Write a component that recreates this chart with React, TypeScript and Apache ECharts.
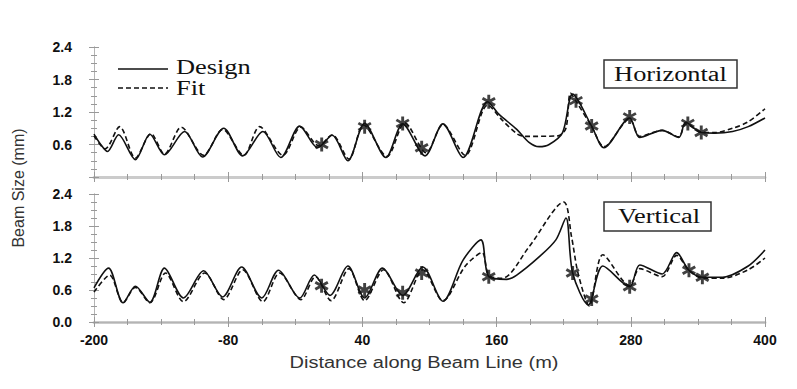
import React, { useEffect, useRef } from "react";
import * as echarts from "echarts";

// Distance along beam line (m) and beam size (mm)
const xTickLabels = [-200, -80, 40, 160, 280, 400];
const X_OFFSET = 200; // axis runs 0..600 internally, labelled -200..400

// Horizontal panel
const hDesignPos = [-200, -194, -188, -178, -163, -150, -137, -119, -103, -84, -67, -49, -33, -16, 0, 13, 27, 42, 61, 76, 96, 112, 130, 152, 162, 178, 189, 198, 207, 219, 228, 245, 256, 279, 288, 308, 323, 329, 343, 355, 371, 385, 400];
const hDesignVal = [0.79, 0.6, 0.47, 0.78, 0.32, 0.79, 0.41, 0.84, 0.37, 0.9, 0.39, 0.84, 0.36, 0.94, 0.54, 0.77, 0.3, 0.99, 0.36, 0.98, 0.39, 0.98, 0.36, 1.39, 1.16, 0.88, 0.64, 0.56, 0.6, 0.82, 1.53, 0.94, 0.54, 1.09, 0.73, 0.86, 0.73, 1.01, 0.82, 0.81, 0.84, 0.93, 1.09];

const hFitPos = [-200, -190, -177, -163, -149, -137, -122, -102, -85, -66, -52, -31, -15, 1, 13, 28, 41, 62, 78, 97, 112, 132, 152, 165, 178, 185, 215, 222, 226, 231, 245, 256, 279, 288, 308, 323, 329, 343, 355, 371, 385, 400];
const hFitVal = [0.76, 0.52, 0.93, 0.35, 0.8, 0.42, 0.92, 0.4, 0.88, 0.4, 0.93, 0.4, 0.92, 0.58, 0.78, 0.33, 0.96, 0.38, 1.0, 0.45, 0.97, 0.4, 1.33, 1.05, 0.8, 0.75, 0.76, 0.9, 1.55, 1.4, 0.93, 0.56, 1.07, 0.75, 0.86, 0.74, 0.98, 0.83, 0.82, 0.9, 1.02, 1.26];

const hStarPos = [3.6, 42, 76, 93, 153, 231, 245, 279, 331, 343];
const hStarVal = [0.6, 0.93, 0.99, 0.54, 1.39, 1.41, 0.94, 1.11, 0.99, 0.82];

// Vertical panel
const vDesignPos = [-200, -187, -174, -163, -150, -137, -120, -102, -85, -68, -50, -35, -16, -3, 11, 27, 42, 58, 76, 94, 112, 130, 146, 153, 169, 178, 198, 213, 222, 228, 242, 255, 279, 288, 308, 321, 332, 344, 362, 385, 400];
const vDesignVal = [0.64, 1.01, 0.36, 0.67, 0.37, 1.01, 0.45, 0.96, 0.47, 1.03, 0.45, 0.97, 0.45, 0.88, 0.5, 1.05, 0.45, 1.01, 0.5, 1.03, 0.39, 1.16, 1.54, 0.85, 0.8, 0.88, 1.22, 1.54, 1.95, 0.92, 0.32, 1.05, 0.66, 1.07, 0.9, 1.3, 0.97, 0.84, 0.84, 1.05, 1.35];

const vFitPos = [-200, -186, -174, -163, -150, -136, -120, -101, -84, -67, -49, -34, -15, -2, 12, 28, 42, 59, 77, 94, 112, 132, 147, 153, 165, 189, 220, 227, 233, 243, 255, 279, 288, 308, 321, 332, 344, 362, 385, 400];
const vFitVal = [0.56, 0.88, 0.36, 0.65, 0.36, 0.92, 0.38, 0.92, 0.42, 0.98, 0.38, 0.92, 0.42, 0.85, 0.4, 1.0, 0.4, 0.98, 0.36, 0.98, 0.4, 1.05, 1.3, 0.88, 0.82, 1.41, 2.25, 1.6, 0.9, 0.3, 1.26, 0.68, 1.0, 0.85, 1.25, 0.97, 0.82, 0.82, 0.98, 1.2];

const vStarPos = [3.5, 42, 76, 93, 153, 228, 245, 279, 332, 344];
const vStarVal = [0.68, 0.6, 0.55, 0.92, 0.85, 0.92, 0.43, 0.66, 0.97, 0.84];

const pair = (pos: number[], val: number[]) => pos.map((p, i) => [p + X_OFFSET, val[i]]);

function asteriskPath(): string {
  const L = 6, w = 1.2;
  const parts: string[] = [];
  [90, 30, 150].forEach((deg) => {
    const t = (deg * Math.PI) / 180;
    const dx = Math.cos(t), dy = Math.sin(t);
    const px = -dy, py = dx;
    const pts = [
      [L * dx + w * px, L * dy + w * py],
      [L * dx - w * px, L * dy - w * py],
      [-L * dx - w * px, -L * dy - w * py],
      [-L * dx + w * px, -L * dy + w * py],
    ];
    parts.push("M" + pts.map((p) => p[0].toFixed(3) + "," + p[1].toFixed(3)).join("L") + "Z");
  });
  return "path://" + parts.join("");
}

export default function App() {
  const ref = useRef<HTMLDivElement>(null);
  useEffect(() => {
    if (!ref.current) return;
    const chart = echarts.init(ref.current, null, { renderer: "svg" });
    const star = asteriskPath();
    const thinLine = { show: true, lineStyle: { color: "#b4b4b4", width: 1 } };
    const thickLine = { show: true, lineStyle: { color: "#cbcbcb", width: 3 } };
    const tick = { show: true, inside: true, length: 5, lineStyle: { color: "#999" } };
    const minor = { show: true, splitNumber: 4, length: 3, lineStyle: { color: "#999" } };
    const labelFont = { fontFamily: "Arial, 'Liberation Sans'", fontWeight: "bold" as const, fontSize: 14, color: "#111" };
    const serif = "20px 'Liberation Serif', 'Times New Roman', serif";
    const SX = 1.32;

    const xBase = { type: "value" as const, min: 0, max: 600, interval: 120, splitLine: { show: false } };
    const yBase = { type: "value" as const, min: 0, max: 2.4, interval: 0.6, splitLine: { show: false } };

    const lineSeries = (data: number[][], axis: number, dashed: boolean) => ({
      type: "line" as const,
      data,
      xAxisIndex: axis,
      yAxisIndex: axis,
      symbol: "none",
      smooth: 0.3,
      lineStyle: { color: "#111", width: 1.6, type: dashed ? [5, 3] : "solid" },
      z: dashed ? 3 : 4,
    });
    const starSeries = (data: number[][], axis: number) => ({
      type: "scatter" as const,
      data,
      xAxisIndex: axis,
      yAxisIndex: axis,
      symbol: star,
      symbolSize: 14,
      itemStyle: { color: "#111" },
      z: 5,
    });

    chart.setOption({
      animation: false,
      backgroundColor: "#fff",
      grid: [
        { left: 94, top: 47, width: 671, height: 130 },
        { left: 94, top: 194, width: 671, height: 128 },
      ],
      xAxis: [
        { ...xBase, gridIndex: 0, position: "bottom", axisLine: thinLine, axisTick: tick, minorTick: minor, axisLabel: { show: false } },
        { ...xBase, gridIndex: 0, position: "top", axisLine: thickLine, axisTick: tick, minorTick: minor, axisLabel: { show: false } },
        {
          ...xBase, gridIndex: 1, position: "bottom", axisLine: thickLine, axisTick: tick, minorTick: minor,
          axisLabel: {
            ...labelFont, margin: 11,
            formatter: (v: number) => (xTickLabels.includes(v - X_OFFSET) ? String(v - X_OFFSET) : ""),
          },
        },
        { ...xBase, gridIndex: 1, position: "top", axisLine: thinLine, axisTick: tick, minorTick: minor, axisLabel: { show: false } },
      ],
      yAxis: [
        {
          ...yBase, gridIndex: 0, position: "left", axisLine: thinLine, axisTick: tick, minorTick: minor,
          axisLabel: { ...labelFont, margin: 22, formatter: (v: number) => (v === 0 ? "" : v.toFixed(1)) },
        },
        { ...yBase, gridIndex: 0, position: "right", axisLine: thinLine, axisTick: tick, minorTick: minor, axisLabel: { show: false } },
        {
          ...yBase, gridIndex: 1, position: "left", axisLine: thinLine, axisTick: tick, minorTick: minor,
          axisLabel: { ...labelFont, margin: 22, formatter: (v: number) => v.toFixed(1) },
        },
        { ...yBase, gridIndex: 1, position: "right", axisLine: thinLine, axisTick: tick, minorTick: minor, axisLabel: { show: false } },
      ],
      series: [
        lineSeries(pair(hFitPos, hFitVal), 0, true),
        lineSeries(pair(hDesignPos, hDesignVal), 0, false),
        starSeries(pair(hStarPos, hStarVal), 0),
        lineSeries(pair(vFitPos, vFitVal), 2, true),
        lineSeries(pair(vDesignPos, vDesignVal), 2, false),
        starSeries(pair(vStarPos, vStarVal), 2),
      ],
      graphic: [
        { type: "line", shape: { x1: 118, y1: 69, x2: 168, y2: 69 }, style: { stroke: "#111", lineWidth: 1.6 } },
        { type: "line", shape: { x1: 118, y1: 88, x2: 168, y2: 88 }, style: { stroke: "#111", lineWidth: 1.6, lineDash: [5, 3] } },
        { type: "text", x: 176, y: 67, scaleX: SX, style: { text: "Design", font: serif, fill: "#111", textAlign: "left", textVerticalAlign: "middle" } },
        { type: "text", x: 176, y: 88, scaleX: SX, style: { text: "Fit", font: serif, fill: "#111", textAlign: "left", textVerticalAlign: "middle" } },
        { type: "rect", shape: { x: 604, y: 60, width: 133, height: 28 }, style: { fill: "#fff", stroke: "#333", lineWidth: 1.5 }, z: 10 },
        { type: "text", x: 670.5, y: 74, scaleX: SX, style: { text: "Horizontal", font: serif, fill: "#111", textAlign: "center", textVerticalAlign: "middle" }, z: 11 },
        { type: "rect", shape: { x: 604, y: 202, width: 107, height: 29 }, style: { fill: "#fff", stroke: "#333", lineWidth: 1.5 }, z: 10 },
        { type: "text", x: 659, y: 216.5, scaleX: SX, style: { text: "Vertical", font: serif, fill: "#111", textAlign: "center", textVerticalAlign: "middle" }, z: 11 },
        { type: "text", x: 18, y: 188, rotation: Math.PI / 2, style: { text: "Beam Size (mm)", font: "16px Arial, 'Liberation Sans'", fill: "#333", textAlign: "center", textVerticalAlign: "middle" } },
        { type: "text", x: 424, y: 363, scaleX: 1.25, style: { text: "Distance along Beam Line (m)", font: "16px Arial, 'Liberation Sans'", fill: "#333", textAlign: "center", textVerticalAlign: "middle" } },
      ],
    });
    return () => chart.dispose();
  }, []);
  return <div ref={ref} style={{ position: "fixed", left: 0, top: 0, width: 797, height: 389 }} />;
}
